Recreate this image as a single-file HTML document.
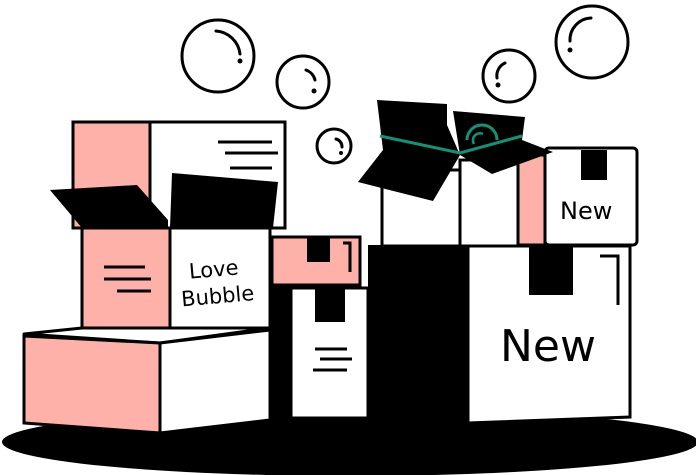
<!DOCTYPE html>
<html><head><meta charset="utf-8"><style>
html,body{margin:0;padding:0;background:#fff;width:696px;height:475px;overflow:hidden}
svg{display:block}
text{font-family:"DejaVu Sans","Liberation Sans",sans-serif;fill:#000}
</style></head><body>
<svg width="696" height="475" viewBox="0 0 696 475" xmlns="http://www.w3.org/2000/svg">
<g fill="none" stroke="#000" stroke-width="3" stroke-linecap="round">
<circle cx="218" cy="56" r="36"/><path d="M216 31 A26 26 0 0 1 240 54"/>
<circle cx="303" cy="82" r="26"/><path d="M306 70 A14 14 0 0 1 315 80"/>
<circle cx="334" cy="146" r="17"/><path d="M336 139 A8 8 0 0 1 342 147"/>
<circle cx="509" cy="76" r="26"/><path d="M505 63 A14 14 0 0 0 497 78"/>
<circle cx="592" cy="42" r="36"/><path d="M591 18 A22 22 0 0 0 570 41"/>
</g>
<g fill="#000"><circle cx="240" cy="61" r="2.5"/><circle cx="314" cy="91" r="2.5"/><circle cx="341" cy="153" r="2"/><circle cx="498" cy="85" r="2.5"/><circle cx="570" cy="50" r="2.5"/></g>
<ellipse cx="350" cy="442" rx="348" ry="34" fill="#000"/>
<rect x="73" y="122" width="77" height="106" fill="#feb1a8" stroke="#000" stroke-width="3"/>
<rect x="150" y="122" width="135" height="106" fill="#fff" stroke="#000" stroke-width="3"/>
<g stroke="#000" stroke-width="3"><line x1="218" y1="142" x2="272" y2="142"/><line x1="225" y1="153" x2="278" y2="153"/><line x1="230" y1="168" x2="272" y2="168"/></g>
<path d="M50 190 L137 185 L168 220 L168 228 L82 228 Z" fill="#000"/>
<path d="M172 173 L278 182 L273 228 L170 228 Z" fill="#000"/>
<rect x="82" y="228" width="88" height="104" fill="#feb1a8" stroke="#000" stroke-width="3"/>
<rect x="170" y="228" width="100" height="104" fill="#fff" stroke="#000" stroke-width="3"/>
<g stroke="#000" stroke-width="3"><line x1="104" y1="267" x2="145" y2="267"/><line x1="104" y1="279" x2="151" y2="279"/><line x1="117" y1="291" x2="151" y2="291"/></g>
<text x="189" y="276" font-size="21" transform="rotate(-5 220 270)">Love</text>
<text x="181" y="303" font-size="21" transform="rotate(-5 220 295)">Bubble</text>
<path d="M24 334 L82 328 L270 328 L160 343 Z" fill="#fff" stroke="#000" stroke-width="3" stroke-linejoin="round"/>
<path d="M24 336 L160 343 L160 433 L24 423 Z" fill="#feb1a8" stroke="#000" stroke-width="3"/>
<path d="M160 343 L270 330 L270 420 L160 433 Z" fill="#fff" stroke="#000" stroke-width="3"/>
<rect x="270" y="285" width="22" height="133" fill="#000"/>
<rect x="272" y="237" width="88" height="48" fill="#feb1a8" stroke="#000" stroke-width="3"/>
<rect x="307" y="237" width="23" height="25" fill="#000"/>
<path d="M343 243 L350 243 L350 272" fill="none" stroke="#000" stroke-width="3"/>
<rect x="291" y="288" width="77" height="130" fill="#fff" stroke="#000" stroke-width="3"/>
<rect x="315" y="288" width="30" height="34" fill="#000"/>
<g stroke="#000" stroke-width="3"><line x1="315" y1="349" x2="347" y2="349"/><line x1="320" y1="359" x2="352" y2="359"/><line x1="313" y1="370" x2="347" y2="370"/></g>
<rect x="545" y="148" width="92" height="97" rx="4" fill="#fff" stroke="#000" stroke-width="3"/>
<rect x="518" y="155" width="27" height="90" fill="#feb1a8" stroke="#000" stroke-width="3"/>
<rect x="581" y="150" width="26" height="30" fill="#000"/>
<text x="560" y="219" font-size="24">New</text>
<rect x="382" y="170" width="78" height="76" fill="#fff" stroke="#000" stroke-width="3"/>
<rect x="460" y="160" width="58" height="86" fill="#fff" stroke="#000" stroke-width="3"/>
<path d="M377 100 L447 104 L447 125 L460 155 L433 201 L358 182 L383 150 Z" fill="#000"/>
<path d="M453 111 L525 117 L522 140 L553 152 L492 174 L460 155 Z" fill="#000"/>
<path d="M380 136 L460 153 L522 136" fill="none" stroke="#0f9478" stroke-width="3"/>
<path d="M467 140 A15 15 0 0 1 497 140" fill="none" stroke="#0f9478" stroke-width="3"/>
<path d="M474 144 A7 7 0 0 1 483 134" fill="none" stroke="#0f9478" stroke-width="2.5"/>
<rect x="368" y="245" width="100" height="185" fill="#000"/>
<path d="M468 246 L630 246 L630 417 L468 423 Z" fill="#fff" stroke="#000" stroke-width="3"/>
<rect x="529" y="246" width="44" height="49" fill="#000"/>
<path d="M600 256 L618 256 L618 305" fill="none" stroke="#000" stroke-width="3"/>
<text x="500" y="361" font-size="44">New</text>
</svg>
</body></html>
